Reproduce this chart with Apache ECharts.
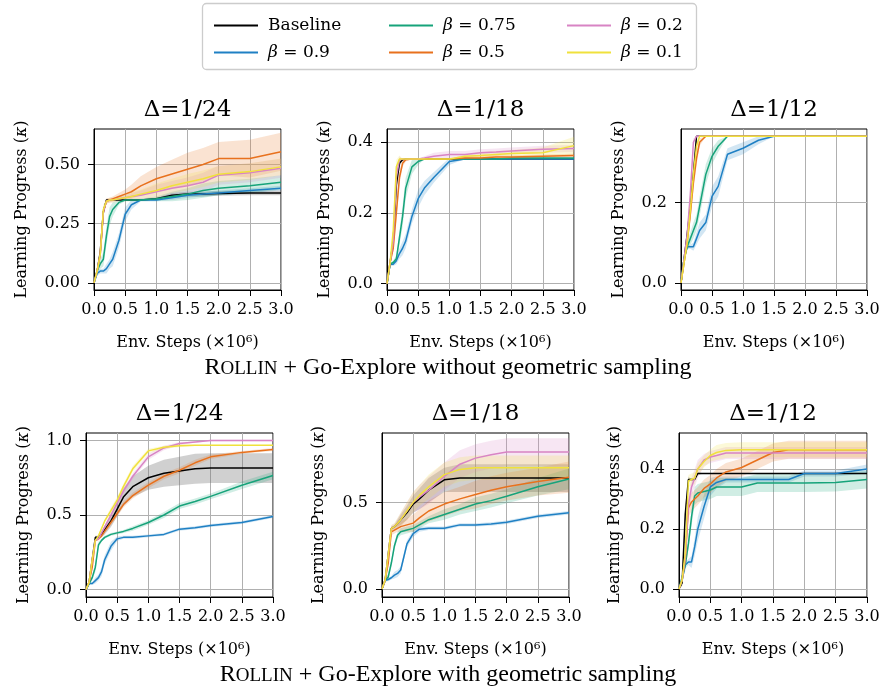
<!DOCTYPE html>
<html>
<head>
<meta charset="utf-8">
<script src="https://cdn.jsdelivr.net/npm/echarts@6/dist/echarts.min.js"></script>
<style>
  html, body { margin: 0; padding: 0; background: #fff; }
  #chart { width: 883px; height: 692px; }
</style>
</head>
<body>
<div id="chart"></div>
<script>
// shared x grid (env steps, x 1e6)
const X = [0, 0.05, 0.1, 0.15, 0.2, 0.25, 0.3, 0.4, 0.5, 0.6, 0.75, 1.0, 1.25, 1.5, 1.75, 2.0, 2.5, 3.0];

const NAMES = ['Baseline', 'β = 0.9', 'β = 0.75', 'β = 0.5', 'β = 0.2', 'β = 0.1'];
const TITLES = ['Δ=1/24', 'Δ=1/18', 'Δ=1/12', 'Δ=1/24', 'Δ=1/18', 'Δ=1/12'];

// --- top row: without geometric sampling ---
// Δ=1/24
const p1Base = [0, 0.05, 0.13, 0.30, 0.35, 0.35, 0.35, 0.35, 0.35, 0.35, 0.35, 0.355, 0.37, 0.375, 0.375, 0.378, 0.38, 0.38];
const p1B09  = [0, 0.04, 0.05, 0.05, 0.06, 0.08, 0.10, 0.18, 0.29, 0.33, 0.35, 0.35, 0.36, 0.37, 0.375, 0.38, 0.39, 0.40];
const p1B075 = [0, 0.05, 0.08, 0.10, 0.20, 0.28, 0.31, 0.34, 0.35, 0.35, 0.35, 0.355, 0.365, 0.375, 0.39, 0.40, 0.41, 0.425];
const p1B05  = [0, 0.05, 0.12, 0.30, 0.345, 0.35, 0.355, 0.365, 0.375, 0.385, 0.41, 0.44, 0.46, 0.48, 0.50, 0.525, 0.525, 0.554];
const p1B02  = [0, 0.05, 0.12, 0.30, 0.345, 0.35, 0.35, 0.355, 0.36, 0.365, 0.37, 0.385, 0.40, 0.41, 0.425, 0.455, 0.465, 0.484];
const p1B01  = [0, 0.05, 0.12, 0.31, 0.345, 0.35, 0.35, 0.355, 0.36, 0.365, 0.375, 0.39, 0.41, 0.425, 0.44, 0.459, 0.47, 0.49];
const p1BaseSd = [0, 0.01, 0.02, 0.02, 0.005, 0, 0, 0, 0, 0, 0, 0.005, 0.01, 0.01, 0.01, 0.01, 0.01, 0.01];
const p1B09Sd  = [0, 0.01, 0.01, 0.01, 0.02, 0.02, 0.03, 0.03, 0.03, 0.02, 0.005, 0.005, 0.01, 0.01, 0.01, 0.01, 0.01, 0.01];
const p1B075Sd = [0, 0.01, 0.02, 0.03, 0.04, 0.04, 0.03, 0.01, 0.005, 0.005, 0.005, 0.01, 0.02, 0.025, 0.03, 0.03, 0.03, 0.03];
const p1B05Sd  = [0, 0.01, 0.02, 0.02, 0.01, 0.01, 0.01, 0.015, 0.02, 0.03, 0.04, 0.05, 0.06, 0.07, 0.07, 0.07, 0.08, 0.08];
const p1B02Sd  = [0, 0.01, 0.02, 0.02, 0.01, 0.01, 0.01, 0.01, 0.01, 0.015, 0.02, 0.03, 0.03, 0.035, 0.04, 0.04, 0.04, 0.04];
const p1B01Sd  = [0, 0.01, 0.02, 0.02, 0.01, 0.01, 0.01, 0.01, 0.015, 0.02, 0.02, 0.03, 0.03, 0.035, 0.035, 0.035, 0.035, 0.035];

// Δ=1/18
const p2Base = [0, 0.06, 0.12, 0.28, 0.34, 0.35, 0.352, 0.352, 0.352, 0.352, 0.352, 0.352, 0.352, 0.352, 0.352, 0.352, 0.352, 0.352];
const p2B09  = [0, 0.055, 0.055, 0.065, 0.085, 0.10, 0.12, 0.19, 0.24, 0.27, 0.30, 0.345, 0.352, 0.352, 0.352, 0.352, 0.352, 0.352];
const p2B075 = [0, 0.055, 0.06, 0.07, 0.13, 0.19, 0.27, 0.33, 0.345, 0.352, 0.352, 0.352, 0.352, 0.352, 0.352, 0.355, 0.355, 0.355];
const p2B05  = [0, 0.06, 0.10, 0.20, 0.30, 0.34, 0.35, 0.352, 0.352, 0.352, 0.352, 0.352, 0.355, 0.355, 0.358, 0.358, 0.36, 0.362];
const p2B02  = [0, 0.06, 0.12, 0.30, 0.35, 0.352, 0.352, 0.352, 0.352, 0.355, 0.36, 0.365, 0.365, 0.37, 0.372, 0.375, 0.38, 0.382];
const p2B01  = [0, 0.06, 0.15, 0.33, 0.352, 0.352, 0.352, 0.352, 0.352, 0.352, 0.352, 0.352, 0.36, 0.362, 0.365, 0.368, 0.37, 0.39];
const p2BaseSd = [0, 0.005, 0.02, 0.03, 0.01, 0, 0, 0, 0, 0, 0, 0, 0, 0, 0, 0, 0, 0];
const p2B09Sd  = [0, 0.005, 0.005, 0.01, 0.015, 0.02, 0.02, 0.02, 0.025, 0.02, 0.015, 0.01, 0, 0, 0, 0, 0, 0];
const p2B075Sd = [0, 0.005, 0.005, 0.01, 0.02, 0.03, 0.03, 0.02, 0.01, 0, 0, 0, 0, 0, 0, 0, 0, 0];
const p2B05Sd  = [0, 0.005, 0.01, 0.02, 0.02, 0.01, 0.005, 0, 0, 0, 0, 0, 0.005, 0.005, 0.005, 0.005, 0.005, 0.005];
const p2B02Sd  = [0, 0.005, 0.01, 0.02, 0.01, 0, 0, 0, 0, 0.005, 0.01, 0.01, 0.01, 0.01, 0.01, 0.01, 0.01, 0.01];
const p2B01Sd  = [0, 0.005, 0.01, 0.02, 0.01, 0, 0, 0, 0, 0, 0, 0, 0.005, 0.01, 0.01, 0.01, 0.015, 0.025];

// Δ=1/12
const p3Base = [0, 0.06, 0.12, 0.19, 0.27, 0.365, 0.365, 0.365, 0.365, 0.365, 0.365, 0.365, 0.365, 0.365, 0.365, 0.365, 0.365, 0.365];
const p3B09  = [0, 0.06, 0.09, 0.09, 0.09, 0.11, 0.13, 0.15, 0.215, 0.24, 0.32, 0.335, 0.355, 0.365, 0.365, 0.365, 0.365, 0.365];
const p3B075 = [0, 0.06, 0.09, 0.11, 0.13, 0.15, 0.19, 0.27, 0.315, 0.34, 0.365, 0.365, 0.365, 0.365, 0.365, 0.365, 0.365, 0.365];
const p3B05  = [0, 0.05, 0.10, 0.17, 0.25, 0.31, 0.35, 0.365, 0.365, 0.365, 0.365, 0.365, 0.365, 0.365, 0.365, 0.365, 0.365, 0.365];
const p3B02  = [0, 0.06, 0.12, 0.22, 0.35, 0.365, 0.365, 0.365, 0.365, 0.365, 0.365, 0.365, 0.365, 0.365, 0.365, 0.365, 0.365, 0.365];
const p3B01  = [0, 0.05, 0.10, 0.18, 0.27, 0.34, 0.365, 0.365, 0.365, 0.365, 0.365, 0.365, 0.365, 0.365, 0.365, 0.365, 0.365, 0.365];
const p3BaseSd = [0, 0.01, 0.02, 0.03, 0.02, 0, 0, 0, 0, 0, 0, 0, 0, 0, 0, 0, 0, 0];
const p3B09Sd  = [0, 0.01, 0.005, 0.005, 0.01, 0.015, 0.02, 0.02, 0.025, 0.025, 0.015, 0.015, 0.01, 0, 0, 0, 0, 0];
const p3B075Sd = [0, 0.01, 0.01, 0.015, 0.02, 0.02, 0.025, 0.025, 0.02, 0.015, 0, 0, 0, 0, 0, 0, 0, 0];
const p3B05Sd  = [0, 0.01, 0.01, 0.02, 0.02, 0.02, 0.01, 0, 0, 0, 0, 0, 0, 0, 0, 0, 0, 0];
const p3B02Sd  = [0, 0.01, 0.01, 0.02, 0.01, 0, 0, 0, 0, 0, 0, 0, 0, 0, 0, 0, 0, 0];
const p3B01Sd  = [0, 0.01, 0.01, 0.02, 0.02, 0.01, 0, 0, 0, 0, 0, 0, 0, 0, 0, 0, 0, 0];

// --- bottom row: with geometric sampling ---
// Δ=1/24
const p4Base = [0, 0.05, 0.20, 0.35, 0.35, 0.37, 0.40, 0.46, 0.54, 0.62, 0.69, 0.75, 0.78, 0.795, 0.81, 0.815, 0.815, 0.815];
const p4B09  = [0, 0.04, 0.04, 0.06, 0.08, 0.12, 0.20, 0.29, 0.34, 0.35, 0.35, 0.36, 0.37, 0.405, 0.415, 0.43, 0.45, 0.49];
const p4B075 = [0, 0.04, 0.08, 0.15, 0.30, 0.33, 0.35, 0.37, 0.38, 0.39, 0.41, 0.45, 0.50, 0.56, 0.59, 0.625, 0.70, 0.765];
const p4B05  = [0, 0.05, 0.15, 0.33, 0.34, 0.36, 0.39, 0.45, 0.51, 0.57, 0.63, 0.70, 0.76, 0.80, 0.85, 0.89, 0.92, 0.94];
const p4B02  = [0, 0.05, 0.20, 0.33, 0.34, 0.38, 0.42, 0.50, 0.58, 0.66, 0.76, 0.89, 0.95, 0.98, 0.99, 1.0, 1.0, 1.0];
const p4B01  = [0, 0.05, 0.20, 0.33, 0.36, 0.41, 0.46, 0.53, 0.60, 0.69, 0.81, 0.93, 0.955, 0.965, 0.967, 0.967, 0.967, 0.967];
const p4BaseSd = [0, 0.01, 0.02, 0.01, 0.01, 0.02, 0.03, 0.04, 0.05, 0.06, 0.07, 0.08, 0.09, 0.095, 0.1, 0.1, 0.1, 0.1];
const p4B09Sd  = [0, 0.005, 0.01, 0.02, 0.02, 0.03, 0.03, 0.03, 0.015, 0.01, 0.01, 0.01, 0.01, 0.01, 0.01, 0.01, 0.01, 0.01];
const p4B075Sd = [0, 0.01, 0.02, 0.03, 0.02, 0.01, 0.01, 0.01, 0.01, 0.01, 0.015, 0.015, 0.02, 0.02, 0.02, 0.02, 0.025, 0.025];
const p4B05Sd  = [0, 0.01, 0.02, 0.01, 0.01, 0.01, 0.01, 0.02, 0.02, 0.02, 0.02, 0.02, 0.02, 0.02, 0.02, 0.015, 0.01, 0.01];
const p4B02Sd  = [0, 0.01, 0.02, 0.01, 0.01, 0.01, 0.01, 0.02, 0.02, 0.02, 0.02, 0.02, 0.015, 0.01, 0.005, 0.005, 0.005, 0.005];
const p4B01Sd  = [0, 0.01, 0.02, 0.01, 0.01, 0.01, 0.01, 0.02, 0.02, 0.02, 0.02, 0.015, 0.01, 0.01, 0.005, 0.005, 0.005, 0.005];

// Δ=1/18
const p5Base = [0, 0.05, 0.20, 0.35, 0.36, 0.38, 0.40, 0.44, 0.49, 0.52, 0.57, 0.63, 0.64, 0.64, 0.64, 0.64, 0.64, 0.64];
const p5B09  = [0, 0.05, 0.055, 0.065, 0.08, 0.09, 0.11, 0.26, 0.32, 0.345, 0.35, 0.35, 0.37, 0.37, 0.375, 0.385, 0.42, 0.44];
const p5B075 = [0, 0.05, 0.07, 0.15, 0.25, 0.31, 0.33, 0.34, 0.35, 0.37, 0.40, 0.43, 0.46, 0.49, 0.51, 0.535, 0.59, 0.635];
const p5B05  = [0, 0.05, 0.15, 0.33, 0.34, 0.35, 0.36, 0.37, 0.38, 0.41, 0.45, 0.49, 0.52, 0.545, 0.57, 0.59, 0.62, 0.645];
const p5B02  = [0, 0.05, 0.20, 0.35, 0.36, 0.38, 0.40, 0.45, 0.50, 0.53, 0.57, 0.65, 0.72, 0.755, 0.775, 0.79, 0.79, 0.79];
const p5B01  = [0, 0.05, 0.20, 0.35, 0.36, 0.38, 0.40, 0.45, 0.50, 0.54, 0.59, 0.66, 0.69, 0.70, 0.70, 0.70, 0.70, 0.70];
const p5BaseSd = [0, 0.01, 0.02, 0.01, 0.01, 0.02, 0.03, 0.04, 0.05, 0.06, 0.07, 0.07, 0.08, 0.08, 0.08, 0.08, 0.08, 0.08];
const p5B09Sd  = [0, 0.005, 0.01, 0.01, 0.02, 0.02, 0.02, 0.02, 0.02, 0.015, 0.01, 0.01, 0.01, 0.01, 0.01, 0.01, 0.01, 0.01];
const p5B075Sd = [0, 0.01, 0.02, 0.02, 0.02, 0.02, 0.02, 0.02, 0.02, 0.02, 0.02, 0.03, 0.03, 0.04, 0.04, 0.04, 0.05, 0.06];
const p5B05Sd  = [0, 0.01, 0.02, 0.02, 0.02, 0.02, 0.03, 0.04, 0.05, 0.05, 0.06, 0.07, 0.07, 0.08, 0.08, 0.08, 0.08, 0.09];
const p5B02Sd  = [0, 0.01, 0.02, 0.02, 0.02, 0.03, 0.04, 0.05, 0.06, 0.07, 0.08, 0.08, 0.08, 0.08, 0.08, 0.08, 0.08, 0.08];
const p5B01Sd  = [0, 0.01, 0.02, 0.02, 0.02, 0.03, 0.04, 0.05, 0.06, 0.06, 0.07, 0.07, 0.07, 0.07, 0.07, 0.07, 0.07, 0.07];

// Δ=1/12
const p6Base = [0, 0.02, 0.25, 0.365, 0.365, 0.365, 0.385, 0.385, 0.385, 0.385, 0.385, 0.385, 0.385, 0.385, 0.385, 0.385, 0.385, 0.385];
const p6B09  = [0, 0.03, 0.08, 0.09, 0.09, 0.14, 0.20, 0.275, 0.34, 0.355, 0.365, 0.365, 0.365, 0.365, 0.365, 0.385, 0.385, 0.40];
const p6B075 = [0, 0.04, 0.08, 0.15, 0.24, 0.31, 0.32, 0.325, 0.33, 0.34, 0.34, 0.34, 0.353, 0.353, 0.353, 0.353, 0.355, 0.365];
const p6B05  = [0, 0.03, 0.10, 0.27, 0.29, 0.30, 0.31, 0.335, 0.35, 0.37, 0.39, 0.405, 0.43, 0.455, 0.464, 0.464, 0.464, 0.464];
const p6B02  = [0, 0.03, 0.10, 0.28, 0.34, 0.37, 0.40, 0.43, 0.44, 0.445, 0.453, 0.453, 0.453, 0.453, 0.453, 0.453, 0.453, 0.453];
const p6B01  = [0, 0.03, 0.12, 0.36, 0.365, 0.37, 0.40, 0.425, 0.445, 0.455, 0.462, 0.464, 0.464, 0.464, 0.464, 0.464, 0.464, 0.464];
const p6BaseSd = [0, 0.01, 0.03, 0.01, 0, 0, 0.005, 0, 0, 0, 0, 0, 0, 0, 0, 0, 0, 0];
const p6B09Sd  = [0, 0.01, 0.01, 0.01, 0.02, 0.03, 0.04, 0.04, 0.03, 0.02, 0.01, 0.01, 0.01, 0.01, 0.01, 0.01, 0.01, 0.015];
const p6B075Sd = [0, 0.01, 0.02, 0.02, 0.03, 0.03, 0.03, 0.03, 0.03, 0.03, 0.03, 0.03, 0.03, 0.03, 0.03, 0.03, 0.03, 0.03];
const p6B05Sd  = [0, 0.01, 0.02, 0.03, 0.03, 0.03, 0.03, 0.03, 0.03, 0.03, 0.03, 0.03, 0.03, 0.03, 0.03, 0.03, 0.03, 0.03];
const p6B02Sd  = [0, 0.01, 0.02, 0.03, 0.03, 0.03, 0.03, 0.02, 0.02, 0.02, 0.02, 0.02, 0.02, 0.02, 0.02, 0.02, 0.02, 0.02];
const p6B01Sd  = [0, 0.01, 0.02, 0.02, 0.02, 0.02, 0.02, 0.02, 0.02, 0.025, 0.025, 0.025, 0.025, 0.025, 0.025, 0.025, 0.025, 0.025];

// y tick values per panel
const p1Ticks = [0, 0.25, 0.5];
const p2Ticks = [0, 0.2, 0.4];
const p3Ticks = [0, 0.2];
const p4Ticks = [0, 0.5, 1.0];
const p5Ticks = [0, 0.5];
const p6Ticks = [0, 0.2, 0.4];

const COLORS = ['#000000', '#1f80c4', '#16a37a', '#e8711d', '#d884c4', '#f0e13c'];
const MATH = 'DejaVu Serif';
const TEXT = 'Liberation Serif';

const panels = [
  { grid: { left: 94, top: 129, width: 187, height: 161 }, ymin: -0.03, ymax: 0.65, ticks: p1Ticks, dec: 2, nameGap: 64,
    mean: [p1Base, p1B09, p1B075, p1B05, p1B02, p1B01], sd: [p1BaseSd, p1B09Sd, p1B075Sd, p1B05Sd, p1B02Sd, p1B01Sd] },
  { grid: { left: 387, top: 129, width: 187, height: 161 }, ymin: -0.018, ymax: 0.437, ticks: p2Ticks, dec: 1, nameGap: 54,
    mean: [p2Base, p2B09, p2B075, p2B05, p2B02, p2B01], sd: [p2BaseSd, p2B09Sd, p2B075Sd, p2B05Sd, p2B02Sd, p2B01Sd] },
  { grid: { left: 681, top: 129, width: 186, height: 161 }, ymin: -0.018, ymax: 0.383, ticks: p3Ticks, dec: 1, nameGap: 54,
    mean: [p3Base, p3B09, p3B075, p3B05, p3B02, p3B01], sd: [p3BaseSd, p3B09Sd, p3B075Sd, p3B05Sd, p3B02Sd, p3B01Sd] },
  { grid: { left: 86, top: 433, width: 187, height: 164 }, ymin: -0.05, ymax: 1.05, ticks: p4Ticks, dec: 1, nameGap: 54,
    mean: [p4Base, p4B09, p4B075, p4B05, p4B02, p4B01], sd: [p4BaseSd, p4B09Sd, p4B075Sd, p4B05Sd, p4B02Sd, p4B01Sd] },
  { grid: { left: 382, top: 433, width: 187, height: 164 }, ymin: -0.046, ymax: 0.9, ticks: p5Ticks, dec: 1, nameGap: 55,
    mean: [p5Base, p5B09, p5B075, p5B05, p5B02, p5B01], sd: [p5BaseSd, p5B09Sd, p5B075Sd, p5B05Sd, p5B02Sd, p5B01Sd] },
  { grid: { left: 679, top: 433, width: 188, height: 164 }, ymin: -0.027, ymax: 0.52, ticks: p6Ticks, dec: 1, nameGap: 56,
    mean: [p6Base, p6B09, p6B075, p6B05, p6B02, p6B01], sd: [p6BaseSd, p6B09Sd, p6B075Sd, p6B05Sd, p6B02Sd, p6B01Sd] },
];

const chart = echarts.init(document.getElementById('chart'));

const grids = [], xAxes = [], yAxes = [], series = [], graphics = [];

panels.forEach((p, k) => {
  grids.push(Object.assign({ show: true, borderColor: '#000', borderWidth: 1, backgroundColor: 'transparent', containLabel: false }, p.grid));

  xAxes.push({
    gridIndex: k, type: 'value', min: 0, max: 3, interval: 0.5,
    axisLine: { show: true, onZero: false, lineStyle: { color: '#000', width: 1 } },
    axisTick: { show: true, length: 6, lineStyle: { color: '#000' } },
    axisLabel: { formatter: (v) => v.toFixed(1), fontFamily: MATH, fontSize: 16, color: '#000', margin: 12, hideOverlap: false },
    splitLine: { show: true, lineStyle: { color: '#b0b0b0', width: 1 } },
    name: 'Env. Steps (×10⁶)', nameLocation: 'middle', nameGap: 45,
    nameTextStyle: { fontFamily: MATH, fontSize: 16, color: '#000' },
  });

  yAxes.push({
    gridIndex: k, type: 'value', min: p.ymin, max: p.ymax,
    axisLine: { show: true, onZero: false, lineStyle: { color: '#000', width: 1 } },
    axisTick: { show: true, length: 6, customValues: p.ticks, lineStyle: { color: '#000' } },
    axisLabel: { customValues: p.ticks, formatter: (v) => v.toFixed(p.dec), fontFamily: MATH, fontSize: 16, color: '#000', margin: 14 },
    splitLine: { show: true, lineStyle: { color: '#b0b0b0', width: 1 } },
    name: 'Learning Progress ({i|κ})', nameLocation: 'middle', nameGap: p.nameGap, nameRotate: 90,
    nameTextStyle: { fontFamily: MATH, fontSize: 16, color: '#000',
      rich: { i: { fontFamily: MATH, fontSize: 16, fontStyle: 'italic', color: '#000' } } },
  });

  // shaded bands (mean ± sd) as polygons placed through the axes
  p.mean.forEach((m, j) => {
    const sd = p.sd[j];
    const fill = j === 0 ? 'rgba(120,120,120,0.35)' : echarts.color.modifyAlpha(COLORS[j], 0.2);
    series.push({
      type: 'custom', xAxisIndex: k, yAxisIndex: k, silent: true, z: 1,
      data: [[X[0], m[0]]],
      renderItem: (params, api) => {
        const up = X.map((x, i) => api.coord([x, m[i] + sd[i]]));
        const lo = X.map((x, i) => api.coord([x, m[i] - sd[i]])).reverse();
        return { type: 'polygon', shape: { points: up.concat(lo) }, style: { fill: fill, stroke: null } };
      },
    });
  });

  p.mean.forEach((m, j) => {
    series.push({
      type: 'line', name: NAMES[j], xAxisIndex: k, yAxisIndex: k,
      data: X.map((x, i) => [x, m[i]]),
      symbol: 'none', lineStyle: { color: COLORS[j], width: 1.5 },
      itemStyle: { color: COLORS[j] }, z: 3,
    });
  });

  graphics.push({
    type: 'text', x: p.grid.left + p.grid.width / 2, y: p.grid.top - 19,
    style: { text: TITLES[k], font: '23px "' + MATH + '"', fill: '#000', textAlign: 'center', textVerticalAlign: 'middle' },
  });
});

const capRich = {
  a: { fontFamily: TEXT, fontSize: 24, color: '#000', verticalAlign: 'bottom' },
  b: { fontFamily: TEXT, fontSize: 19, color: '#000', verticalAlign: 'bottom', padding: [0, 0, 1, 0] },
  c: { fontFamily: TEXT, fontSize: 24, color: '#000', verticalAlign: 'bottom' },
};
graphics.push({
  type: 'text', x: 448, y: 368,
  style: { text: '{a|R}{b|OLLIN}{c| + Go-Explore without geometric sampling}', rich: capRich, textAlign: 'center', textVerticalAlign: 'middle' },
});
graphics.push({
  type: 'text', x: 448, y: 675,
  style: { text: '{a|R}{b|OLLIN}{c| + Go-Explore with geometric sampling}', rich: capRich, textAlign: 'center', textVerticalAlign: 'middle' },
});
graphics.push({
  type: 'rect', z: -1,
  shape: { x: 202.5, y: 3.5, width: 494, height: 66, r: 4 },
  style: { fill: 'none', stroke: '#cccccc', lineWidth: 1.3 },
});

const legendBase = {
  orient: 'vertical', top: 12, itemGap: 10, itemWidth: 44, itemHeight: 2, icon: 'rect',
  textStyle: { fontFamily: MATH, fontSize: 17, color: '#000', padding: [0, 0, 0, 5],
    rich: { i: { fontFamily: MATH, fontSize: 17, fontStyle: 'italic', color: '#000' } } },
  formatter: (n) => n.startsWith('β') ? '{i|β}' + n.slice(1) : n,
};

chart.setOption({
  animation: false,
  backgroundColor: '#fff',
  grid: grids,
  xAxis: xAxes,
  yAxis: yAxes,
  legend: [
    Object.assign({ left: 209, data: [NAMES[0], NAMES[1]] }, legendBase),
    Object.assign({ left: 384, data: [NAMES[2], NAMES[3]] }, legendBase),
    Object.assign({ left: 562, data: [NAMES[4], NAMES[5]] }, legendBase),
  ],
  graphic: graphics,
  series: series,
});
</script>
</body>
</html>
